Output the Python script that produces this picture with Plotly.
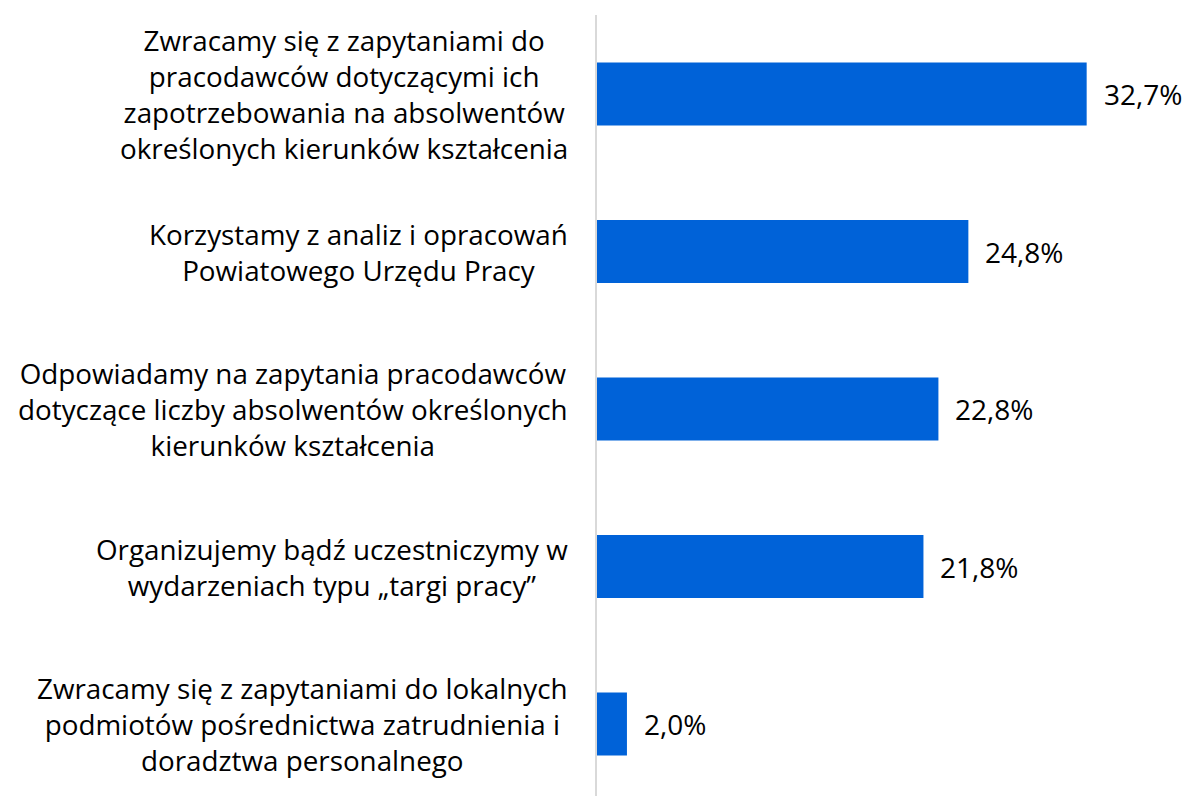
import plotly.graph_objects as go

categories = [
    "Zwracamy się z zapytaniami do<br>pracodawców dotyczącymi ich<br>zapotrzebowania na absolwentów<br>określonych kierunków kształcenia",
    "Korzystamy z analiz i opracowań<br>Powiatowego Urzędu Pracy",
    "Odpowiadamy na zapytania pracodawców<br>dotyczące liczby absolwentów określonych<br>kierunków kształcenia",
    "Organizujemy bądź uczestniczymy w<br>wydarzeniach typu „targi pracy”",
    "Zwracamy się z zapytaniami do lokalnych<br>podmiotów pośrednictwa zatrudnienia i<br>doradztwa personalnego",
]
values = [32.7, 24.8, 22.8, 21.8, 2.0]
value_labels = [f"{v:.1f}".replace(".", ",") + "%" for v in values]

FONT = "Open Sans"
idx = list(range(len(categories)))

fig = go.Figure(go.Bar(
    y=idx, x=values, orientation="h",
    marker=dict(color="#0062D8", line=dict(width=0)),
    width=0.4, hoverinfo="skip",
))

annotations = []
for i, (c, v, lab) in enumerate(zip(categories, values, value_labels)):
    annotations.append(dict(
        xref="paper", yref="y", x=0, y=i, xshift=-27, xanchor="right", yanchor="middle",
        text=c, align="center", showarrow=False,
        font=dict(family=FONT, size=27.8, color="#000000"),
    ))
    annotations.append(dict(
        xref="x", yref="y", x=v, y=i, xshift=15, xanchor="left", yanchor="middle",
        text=lab, showarrow=False,
        font=dict(family=FONT, size=28, color="#000000"),
    ))

fig.update_layout(
    width=1182, height=788,
    margin=dict(l=589, r=0, t=7, b=0),
    plot_bgcolor="white", paper_bgcolor="white",
    showlegend=False,
    annotations=annotations,
    xaxis=dict(visible=False, range=[0, 39.6]),
    yaxis=dict(range=[4.457, -0.502], showticklabels=False, showgrid=False,
               zeroline=False, showline=True, linecolor="#d9d9d9", linewidth=2,
               ticks=""),
)

fig.write_html("out.html")
